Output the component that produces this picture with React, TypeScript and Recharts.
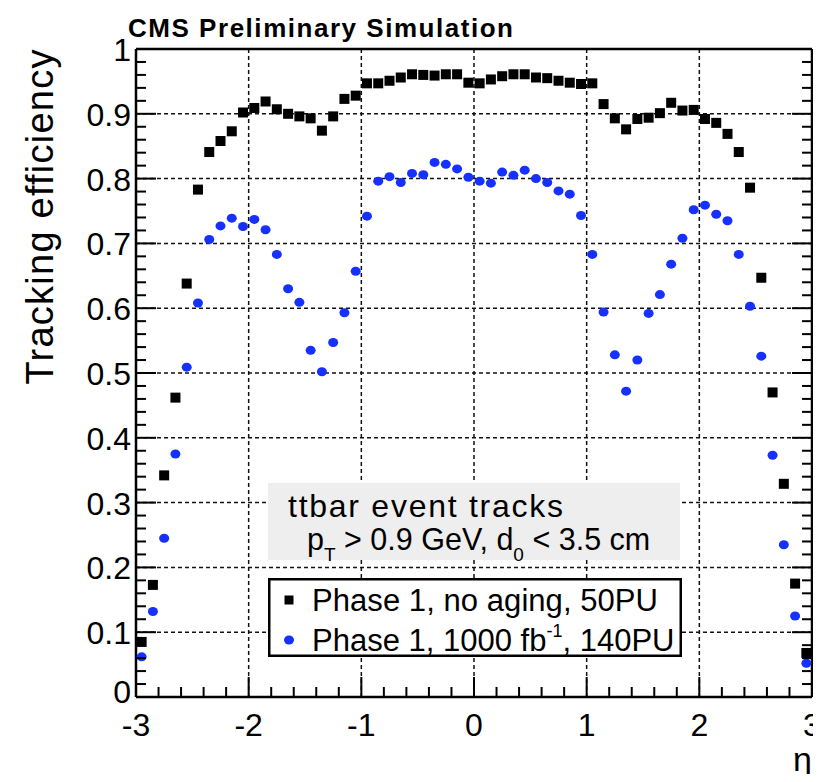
import { ScatterChart, Scatter, XAxis, YAxis, ReferenceLine, Legend } from "recharts"

const etaBins = [
  -2.95, -2.85, -2.75, -2.65, -2.55, -2.45, -2.35, -2.25, -2.15, -2.05,
  -1.95, -1.85, -1.75, -1.65, -1.55, -1.45, -1.35, -1.25, -1.15, -1.05,
  -0.95, -0.85, -0.75, -0.65, -0.55, -0.45, -0.35, -0.25, -0.15, -0.05,
  0.05, 0.15, 0.25, 0.35, 0.45, 0.55, 0.65, 0.75, 0.85, 0.95,
  1.05, 1.15, 1.25, 1.35, 1.45, 1.55, 1.65, 1.75, 1.85, 1.95,
  2.05, 2.15, 2.25, 2.35, 2.45, 2.55, 2.65, 2.75, 2.85, 2.95,
]

// Phase 1, no aging, 50PU
const effNoAging = [
  0.085, 0.173, 0.342, 0.462, 0.638, 0.783, 0.841, 0.858, 0.873, 0.902,
  0.909, 0.919, 0.907, 0.9, 0.896, 0.893, 0.874, 0.896, 0.923, 0.928,
  0.947, 0.947, 0.951, 0.956, 0.961, 0.96, 0.959, 0.961, 0.961, 0.948,
  0.947, 0.953, 0.958, 0.961, 0.961, 0.956, 0.955, 0.951, 0.948, 0.946,
  0.947, 0.915, 0.893, 0.876, 0.892, 0.894, 0.901, 0.917, 0.905, 0.906,
  0.892, 0.886, 0.869, 0.841, 0.786, 0.647, 0.47, 0.329, 0.175, 0.068,
]

// Phase 1, 1000 fb-1, 140PU
const effAged = [
  0.062, 0.132, 0.245, 0.375, 0.509, 0.608, 0.706, 0.727, 0.739, 0.726,
  0.737, 0.721, 0.683, 0.63, 0.609, 0.535, 0.502, 0.547, 0.593, 0.657,
  0.742, 0.796, 0.803, 0.794, 0.808, 0.806, 0.825, 0.822, 0.815, 0.802,
  0.796, 0.793, 0.81, 0.805, 0.813, 0.8, 0.794, 0.781, 0.776, 0.743,
  0.683, 0.594, 0.528, 0.472, 0.52, 0.592, 0.621, 0.668, 0.708, 0.752,
  0.759, 0.745, 0.735, 0.683, 0.603, 0.526, 0.373, 0.235, 0.125, 0.052,
]

const etaMajorTicks = [-3, -2, -1, 0, 1, 2, 3]
const etaAllTicks = [
  -3, -2.8, -2.6, -2.4, -2.2, -2, -1.8, -1.6, -1.4, -1.2, -1, -0.8, -0.6, -0.4, -0.2,
  0, 0.2, 0.4, 0.6, 0.8, 1, 1.2, 1.4, 1.6, 1.8, 2, 2.2, 2.4, 2.6, 2.8, 3,
]
const effMajorTicks = [0, 0.1, 0.2, 0.3, 0.4, 0.5, 0.6, 0.7, 0.8, 0.9, 1]
const effAllTicks = [
  0, 0.02, 0.04, 0.06, 0.08, 0.1, 0.12, 0.14, 0.16, 0.18, 0.2, 0.22, 0.24, 0.26, 0.28,
  0.3, 0.32, 0.34, 0.36, 0.38, 0.4, 0.42, 0.44, 0.46, 0.48, 0.5, 0.52, 0.54, 0.56, 0.58,
  0.6, 0.62, 0.64, 0.66, 0.68, 0.7, 0.72, 0.74, 0.76, 0.78, 0.8, 0.82, 0.84, 0.86, 0.88,
  0.9, 0.92, 0.94, 0.96, 0.98, 1,
]
const etaGrid = [-2, -1, 0, 1, 2]
const effGrid = [0.1, 0.2, 0.3, 0.4, 0.5, 0.6, 0.7, 0.8, 0.9]

const noAgingData = etaBins.map((eta, i) => ({ eta, eff: effNoAging[i] }))
const agedData = etaBins.map((eta, i) => ({ eta, eff: effAged[i] }))

const FONT = "'Liberation Sans', Arial, Helvetica, sans-serif"
const BLUE = "#1530ff"
const MAJOR = 20
const MINOR = 10

function BottomTick(props: any) {
  const { x, y, payload } = props
  const major = etaMajorTicks.includes(payload.value)
  return (
    <g>
      <line x1={x} y1={y} x2={x} y2={y - (major ? MAJOR : MINOR)} stroke="#000" strokeWidth={2} />
      {major && (
        <text x={x} y={y + 39} textAnchor="middle" fontSize={32} fontFamily={FONT} fill="#000">
          {payload.value}
        </text>
      )}
    </g>
  )
}

function TopTick(props: any) {
  const { x, y, payload } = props
  const major = etaMajorTicks.includes(payload.value)
  return <line x1={x} y1={y} x2={x} y2={y + (major ? MAJOR : MINOR)} stroke="#000" strokeWidth={2} />
}

function LeftTick(props: any) {
  const { x, y, payload } = props
  const major = effMajorTicks.includes(payload.value)
  // the "0" label sits a little higher so it clears the "-3" below it
  const dy = payload.value === 0 ? 6 : 12
  return (
    <g>
      <line x1={x} y1={y} x2={x + (major ? MAJOR : MINOR)} y2={y} stroke="#000" strokeWidth={2} />
      {major && (
        <text x={x - 5} y={y + dy} textAnchor="end" fontSize={32} fontFamily={FONT} fill="#000">
          {payload.value}
        </text>
      )}
    </g>
  )
}

function RightTick(props: any) {
  const { x, y, payload } = props
  const major = effMajorTicks.includes(payload.value)
  return <line x1={x} y1={y} x2={x - (major ? MAJOR : MINOR)} y2={y} stroke="#000" strokeWidth={2} />
}

const SquareDot = (props: any) => (
  <rect x={props.cx - 5} y={props.cy - 5} width={10} height={10} fill="#000" />
)
const RoundDot = (props: any) => (
  <ellipse cx={props.cx} cy={props.cy} rx={5} ry={4.5} fill={BLUE} />
)

function LegendBox() {
  return (
    <svg width={414} height={79} style={{ display: "block" }}>
      <rect x={1.25} y={1.25} width={411.5} height={76.5} fill="#fff" stroke="#000" strokeWidth={2.5} />
      <rect x={16.5} y={17.5} width={9} height={9} fill="#000" />
      <text x={44} y={33} fontSize={31} fontFamily={FONT} fill="#000" textLength={346} lengthAdjust="spacing">
        Phase 1, no aging, 50PU
      </text>
      <ellipse cx={21} cy={62} rx={5} ry={4.5} fill={BLUE} />
      <text x={44} y={73} fontSize={31} fontFamily={FONT} fill="#000">
        Phase 1, 1000 fb
        <tspan fontSize={18} dy={-14}>-1</tspan>
        <tspan dy={14}>, 140PU</tspan>
      </text>
    </svg>
  )
}

const axisLineStyle = { stroke: "#000", strokeWidth: 2.5 }

export default function App() {
  return (
    <div style={{ position: "relative", width: 821, height: 782, margin: -8, background: "#fff", fontFamily: FONT }}>
      <ScatterChart width={821} height={782} margin={{ top: 48, right: 8, bottom: 84, left: 135 }}>
        <XAxis
          xAxisId="b"
          type="number"
          dataKey="eta"
          domain={[-3, 3]}
          allowDataOverflow
          ticks={etaAllTicks}
          interval={0}
          height={1}
          tickSize={0}
          tickMargin={0}
          tick={BottomTick}
          axisLine={axisLineStyle}
        />
        <XAxis
          xAxisId="t"
          orientation="top"
          type="number"
          domain={[-3, 3]}
          allowDataOverflow
          ticks={etaAllTicks}
          interval={0}
          height={1}
          tickSize={0}
          tickMargin={0}
          tick={TopTick}
          axisLine={axisLineStyle}
        />
        <YAxis
          yAxisId="l"
          type="number"
          dataKey="eff"
          domain={[0, 1]}
          allowDataOverflow
          ticks={effAllTicks}
          interval={0}
          width={1}
          tickSize={0}
          tickMargin={0}
          tick={LeftTick}
          axisLine={axisLineStyle}
        />
        <YAxis
          yAxisId="r"
          orientation="right"
          type="number"
          domain={[0, 1]}
          allowDataOverflow
          ticks={effAllTicks}
          interval={0}
          width={1}
          tickSize={0}
          tickMargin={0}
          tick={RightTick}
          axisLine={axisLineStyle}
        />
        {etaGrid.map((v) => (
          <ReferenceLine key={"gx" + v} xAxisId="b" yAxisId="l" x={v} stroke="#111" strokeWidth={1.5} strokeDasharray="4 3" />
        ))}
        {effGrid.map((v) => (
          <ReferenceLine key={"gy" + v} xAxisId="b" yAxisId="l" y={v} stroke="#111" strokeWidth={1.5} strokeDasharray="4 3" />
        ))}
        <Scatter
          name="Phase 1, no aging, 50PU"
          xAxisId="b"
          yAxisId="l"
          data={noAgingData}
          fill="#000"
          shape={SquareDot}
          isAnimationActive={false}
        />
        <Scatter
          name="Phase 1, 1000 fb-1, 140PU"
          xAxisId="b"
          yAxisId="l"
          data={agedData}
          fill={BLUE}
          shape={RoundDot}
          isAnimationActive={false}
        />
        <Legend
          layout="horizontal"
          align="center"
          verticalAlign="middle"
          content={LegendBox}
          wrapperStyle={{ left: 268, top: 578, width: 414, height: 79 }}
        />
      </ScatterChart>

      <svg width={821} height={782} style={{ position: "absolute", left: 0, top: 0, pointerEvents: "none" }}>
        <text x={128} y={37} fontSize={26} fontWeight="bold" fontFamily={FONT} fill="#000" textLength={385} lengthAdjust="spacing">
          CMS Preliminary Simulation
        </text>
        <text
          transform="translate(53,217) rotate(-90)"
          textAnchor="middle"
          fontSize={38}
          fontFamily={FONT}
          fill="#000"
          textLength={335}
          lengthAdjust="spacing"
        >
          Tracking efficiency
        </text>
        <text x={812} y={771} textAnchor="end" fontSize={34} fontFamily={FONT} fill="#000">
          η
        </text>
        <rect x={268} y={483} width={412} height={77} fill="#eeeeee" />
        <text x={288} y={517} fontSize={32} fontFamily={FONT} fill="#000" textLength={275} lengthAdjust="spacing">
          ttbar event tracks
        </text>
        <text x={307} y={550} fontSize={30.5} fontFamily={FONT} fill="#000">
          p<tspan fontSize={19} dy={11}>T</tspan>
          <tspan dy={-11}> &gt; 0.9 GeV, d</tspan>
          <tspan fontSize={19} dy={11}>0</tspan>
          <tspan dy={-11}> &lt; 3.5 cm</tspan>
        </text>
      </svg>
    </div>
  )
}
